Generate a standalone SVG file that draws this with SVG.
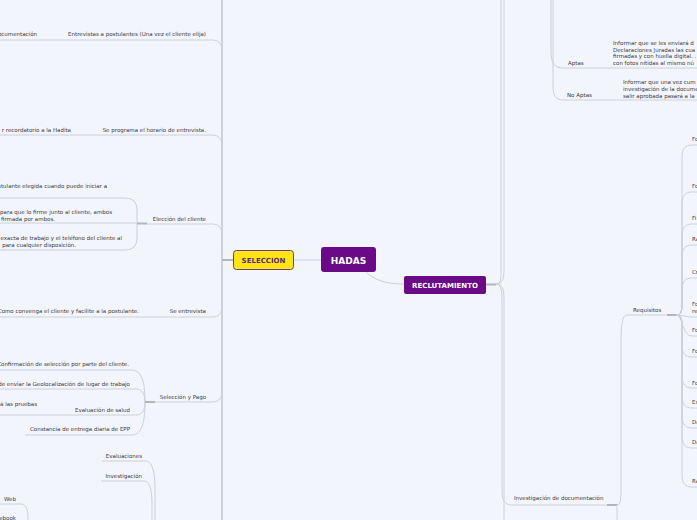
<svg xmlns="http://www.w3.org/2000/svg" width="697" height="520" viewBox="0 0 697 520">
<style>
.bg{fill:#f3f5fd}
.c{fill:none;stroke:#cdd0d8;stroke-width:1}
.sp{fill:none;stroke:#c2c5cc;stroke-width:1.5}
.j{fill:none;stroke:#b3b5ba;stroke-width:2}
.t{font-family:"DejaVu Sans",Verdana,sans-serif;font-size:5.5px;fill:#3a3a3a}
.e{text-anchor:end}
.nb{font-family:"DejaVu Sans",Verdana,sans-serif;font-weight:bold;text-anchor:middle}
</style>
<rect class="bg" x="0" y="0" width="697" height="520"/>
<g id="connectors">
<path class="sp" d="M222,-10 V530"/>
<path class="j" d="M222,260 H233"/>
<path class="c" d="M293,260 H321"/>
<path class="c" d="M366,272 C375,280 385,284 404,284"/>
<path class="c" d="M0,40 H213 Q220,40 222,48"/>
<path class="c" d="M0,135 H213 Q220,135 222,143"/>
<path class="c" d="M147,224 H213 Q220,224 222,232"/>
<path class="c" d="M0,317 H213 Q220,317 222,309"/>
<path class="c" d="M155,402 H213 Q220,402 222,394"/>
<path class="c" d="M0,198 H125 Q137,198 137,210 V223"/>
<path class="c" d="M0,223 H137"/>
<path class="c" d="M0,250 H125 Q137,250 137,238 V223"/>
<path class="j" d="M137,223.5 H147"/>
<path class="c" d="M0,370 H131 C141,370 145,380 145,402"/>
<path class="c" d="M0,389 H136 C142,389 145,394 145,402"/>
<path class="c" d="M0,415 H136 C142,415 145,410 145,402"/>
<path class="c" d="M25,435 H131 C141,435 145,425 145,402"/>
<path class="j" d="M145,402 H155"/>
<path class="c" d="M102,461 H145 C152,461 155,470 155,490 V525"/>
<path class="c" d="M101,481 H144 C150,481 152,490 152,505 V525"/>
<path class="c" d="M0,504 H21 C26,504 28,510 28,518 V525"/>
<path class="j" d="M486,284.5 H496"/>
<path class="c" d="M496,284 C501,284 501,280 501,270 V-10"/>
<path class="c" d="M496,284 C503,284 504,278 504,268 V-10"/>
<path class="c" d="M496,284 C501,284 502,290 502,300 V492 C502,500 505,505 512,505 H607"/>
<path class="c" d="M496,284 C503,284 504,290 504,300 V530"/>
<path class="c" d="M551,-10 V52 C551,63 555,68 563,68 H700"/>
<path class="c" d="M553,-10 V86 C553,96 556,100 563,100 H700"/>
<path class="j" d="M607,505 H617"/>
<path class="c" d="M617,505 C620,505 621,500 621,490 V345 C621,325 622,315 627,315 H667"/>
<path class="c" d="M617,505 V525"/>
<path class="j" d="M667,315 H676"/>
<path class="c" d="M676,315 C682,315 682,310 682,300 V157 C682,149 685,145 692,145 H700"/>
<path class="c" d="M676,315 C682,315 682,310 682,300 V204 C682,196 685,192 692,192 H700"/>
<path class="c" d="M676,315 C682,315 682,310 682,300 V236 C682,228 685,224 692,224 H700"/>
<path class="c" d="M676,315 C682,315 682,310 682,300 V257 C682,249 685,245 692,245 H700"/>
<path class="c" d="M676,315 C682,315 682,310 682,300 V290 C682,282 685,278 692,278 H700"/>
<path class="c" d="M676,315 C684,315 684,317 692,317 H700"/>
<path class="c" d="M676,315 C683,315 682,336 692,336 H700"/>
<path class="c" d="M676,315 C682,315 682,320 682,330 V345 C682,353 685,357 692,357 H700"/>
<path class="c" d="M676,315 C682,315 682,320 682,330 V376 C682,384 685,388 692,388 H700"/>
<path class="c" d="M676,315 C682,315 682,320 682,330 V396 C682,404 685,408 692,408 H700"/>
<path class="c" d="M676,315 C682,315 682,320 682,330 V416 C682,424 685,428 692,428 H700"/>
<path class="c" d="M676,315 C682,315 682,320 682,330 V436 C682,444 685,448 692,448 H700"/>
<path class="c" d="M676,315 C682,315 682,320 682,330 V475 C682,483 685,487 692,487 H700"/>
</g>
<g id="hadas">
<rect x="321" y="247" width="55" height="25" rx="3" fill="#6a0a86"/>
<text class="nb" x="348.5" y="263.5" font-size="9" fill="#ffffff">HADAS</text>
</g>
<g id="seleccion">
<rect x="233.5" y="250.5" width="60" height="19" rx="3" fill="#ffe513" stroke="#6b3a86" stroke-width="1"/>
<text class="nb" x="263.5" y="262.5" font-size="7" fill="#5a2a7c">SELECCION</text>
</g>
<g id="reclutamiento">
<rect x="404" y="276" width="82" height="18" rx="2" fill="#6a0a86"/>
<text class="nb" x="445" y="287.5" font-size="7" fill="#ffffff">RECLUTAMIENTO</text>
</g>
<g id="entrevistas">
<text class="t e" x="206" y="36">Entrevistas a postulantes (Una vez el cliente elija)</text>
<text class="t e" x="37" y="36">ocumentación</text>
</g>
<g id="programa">
<text class="t e" x="206" y="131.5">Se programa el horario de entrevista.</text>
<text class="t e" x="71" y="131.5">r recordatorio a la Hadita</text>
</g>
<g id="eleccion">
<text class="t e" x="206" y="220.5">Elección del cliente</text>
<text class="t e" x="107" y="188">stulante elegida cuando puede iniciar a</text>
<text class="t e" x="112" y="214">para que lo firme junto al cliente, ambos</text>
<text class="t e" x="55" y="221">firmada por ambos.</text>
<text class="t e" x="122" y="240">exacta de trabajo y el teléfono del cliente al</text>
<text class="t e" x="76" y="247">para cualquier disposición.</text>
</g>
<g id="seentrevista">
<text class="t e" x="206" y="313">Se entrevista</text>
<text class="t e" x="139" y="313">Como convenga el cliente y facilite a la postulante.</text>
</g>
<g id="seleccionpago">
<text class="t e" x="206" y="399">Selección y Pago</text>
<text class="t e" x="129" y="365.5">Confirmación de selección por parte del cliente.</text>
<text class="t e" x="130" y="386">de enviar la Geolocalización de lugar de trabajo</text>
<text class="t e" x="37" y="405.5">á las pruebas</text>
<text class="t e" x="130" y="411.5">Evaluación de salud</text>
<text class="t e" x="130" y="431">Constancia de entrega diaria de EPP</text>
</g>
<g id="bottom-left">
<text class="t e" x="142" y="458">Evaluaciones</text>
<text class="t e" x="142" y="478">Investigación</text>
<text class="t e" x="16" y="500.5">Web</text>
<text class="t e" x="16" y="520">ebook</text>
</g>
<g id="aptas">
<text class="t" x="568" y="65">Aptas</text>
<text class="t" x="613" y="45">Informar que se les enviará d</text>
<text class="t" x="613" y="51.5">Declaraciones Juradas las cua</text>
<text class="t" x="613" y="58">firmadas y con huella digital. .</text>
<text class="t" x="613" y="65">con fotos nítidas al mismo nú</text>
</g>
<g id="noaptas">
<text class="t" x="567" y="97">No Aptas</text>
<text class="t" x="623" y="84">Informar que una vez cum</text>
<text class="t" x="623" y="91">investigación de la docume</text>
<text class="t" x="623" y="97.5">salir aprobada pasará a la</text>
</g>
<g id="investigacion-doc">
<text class="t" x="514" y="500">Investigación de documentación</text>
</g>
<g id="requisitos">
<text class="t" x="633" y="312">Requisitos</text>
</g>
<g id="requisitos-children">
<text class="t" x="692" y="141">Fo</text>
<text class="t" x="692" y="188">Fo</text>
<text class="t" x="692" y="220">Fi</text>
<text class="t" x="692" y="241">Ra</text>
<text class="t" x="692" y="274">Cr</text>
<text class="t" x="692" y="306">Fo</text>
<text class="t" x="692" y="313">re</text>
<text class="t" x="692" y="332">Fo</text>
<text class="t" x="692" y="353">Fo</text>
<text class="t" x="692" y="385">Fo</text>
<text class="t" x="692" y="404">Ex</text>
<text class="t" x="692" y="424">Da</text>
<text class="t" x="692" y="444">Da</text>
<text class="t" x="692" y="483">Ra</text>
</g>
</svg>
